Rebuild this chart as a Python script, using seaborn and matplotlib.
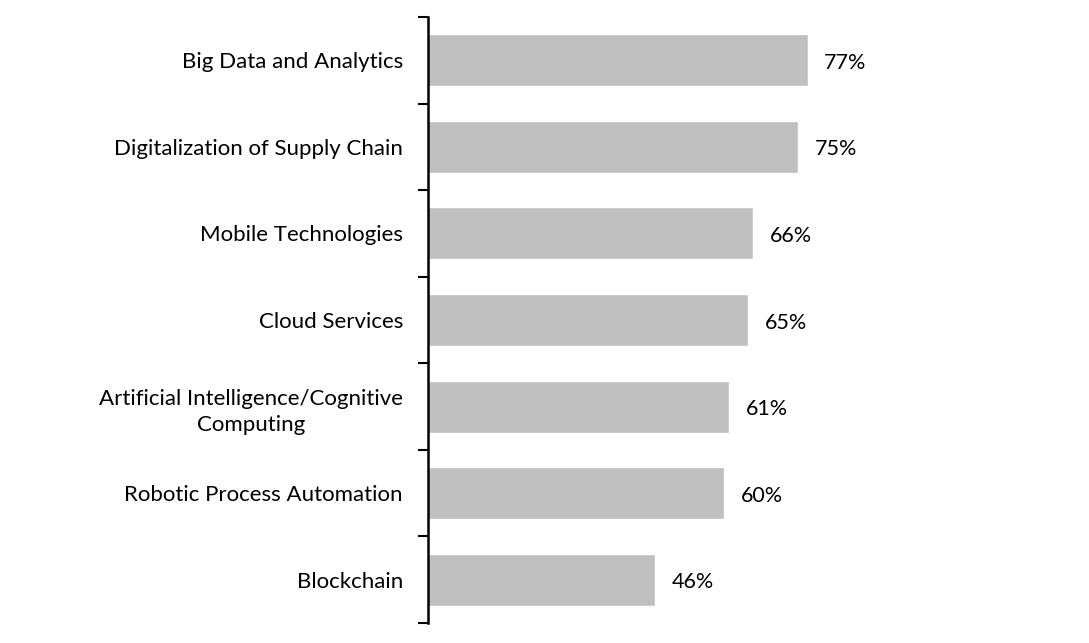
import matplotlib
matplotlib.use("Agg")
import matplotlib.pyplot as plt
import pandas as pd
import seaborn as sns

categories = [
    "Big Data and Analytics",
    "Digitalization of Supply Chain",
    "Mobile Technologies",
    "Cloud Services",
    "Artificial Intelligence/Cognitive\nComputing",
    "Robotic Process Automation",
    "Blockchain",
]
shares = [77, 75, 66, 65, 61, 60, 46]

sns.set_theme(style="white")
plt.rcParams["font.family"] = ["Lato", "DejaVu Sans"]

df = pd.DataFrame({"category": categories, "share": shares})

fig = plt.figure(figsize=(10.89, 6.43), dpi=100)
ax = fig.add_axes([428 / 1089, 20 / 643, 493 / 1089, 606 / 643])

sns.barplot(data=df, x="share", y="category", color="#BFBFBF", width=0.6,
            saturation=1, ax=ax)

ax.set_xlim(0, 100)
ax.set_ylim(len(categories) - 0.5, -0.5)

for i, v in enumerate(shares):
    ax.text(v + 3.4, i + 0.03, f"{v}%", va="center", ha="left", fontsize=15.5, color="black")

# category boundary ticks on the left spine
ax.set_yticks([i - 0.5 for i in range(len(categories) + 1)], minor=False)
ax.set_yticklabels([])
ax.set_yticks(range(len(categories)), minor=True)
ax.set_yticklabels(categories, minor=True, fontsize=16, color="black", linespacing=1.4)
for lbl in ax.get_yticklabels(minor=True):
    lbl.set_multialignment("center")
ax.tick_params(axis="y", which="major", length=7, width=1.5, color="black", left=True)
ax.tick_params(axis="y", which="minor", length=0, pad=18)

ax.set_xticks([])
ax.set_xlabel("")
ax.set_ylabel("")
for side in ["top", "right", "bottom"]:
    ax.spines[side].set_visible(False)
ax.spines["left"].set_color("black")
ax.spines["left"].set_linewidth(1.8)

fig.savefig("out.png", dpi=100)
